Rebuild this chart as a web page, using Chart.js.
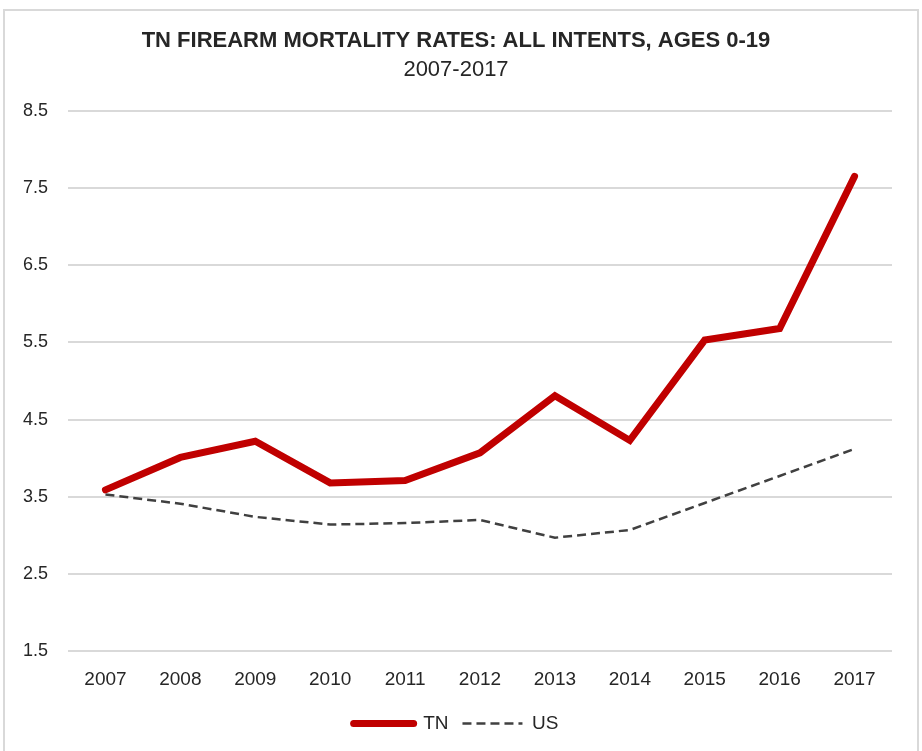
<!DOCTYPE html>
<html>
<head>
<meta charset="utf-8">
<script src="https://cdn.jsdelivr.net/npm/chart.js@4"></script>
<style>
  html, body { margin: 0; padding: 0; background: #fff; }
  body { width: 922px; height: 751px; overflow: hidden; position: relative; }
  #frame {
    position: absolute; left: 3px; top: 9px; width: 912px; height: 760px;
    border: 2px solid #d9d9d9;
  }
  #wrap { position: absolute; left: 0; top: 0; width: 922px; height: 751px; }
</style>
</head>
<body>
<div id="frame"></div>
<div id="wrap"><canvas id="chart"></canvas></div>
<script>
// years on the x axis
const years = ['2007', '2008', '2009', '2010', '2011', '2012', '2013', '2014', '2015', '2016', '2017'];
// rates per 100k
const tnRates = [3.59, 4.01, 4.22, 3.68, 3.71, 4.07, 4.81, 4.23, 5.53, 5.68, 7.65];
const usRates = [3.53, 3.41, 3.24, 3.14, 3.16, 3.20, 2.97, 3.07, 3.42, 3.77, 4.12];
const yTicks = [1.5, 2.5, 3.5, 4.5, 5.5, 6.5, 7.5, 8.5];

const fontFamily = '"Liberation Sans", Arial, sans-serif';
const textColor = '#262626';

const ctx = document.getElementById('chart').getContext('2d');
const myChart = new Chart(ctx, {
    type: 'line',
    data: {
        labels: years,
        datasets: [
            {
                label: 'TN',
                data: tnRates,
                borderColor: '#c00000',
                backgroundColor: '#c00000',
                borderWidth: 7,
                borderCapStyle: 'round',
                pointRadius: 0,
            },
            {
                label: 'US',
                data: usRates,
                borderColor: '#404040',
                backgroundColor: '#404040',
                borderWidth: 2.5,
                borderDash: [9, 5],
                pointRadius: 0,
            },
        ],
    },
    options: {
        responsive: true,
        maintainAspectRatio: false,
        animation: false,
        layout: {
            padding: { left: 20, right: 30, top: 22, bottom: 8 },
        },
        plugins: {
            title: {
                display: true,
                text: 'TN FIREARM MORTALITY RATES: ALL INTENTS, AGES 0-19',
                color: textColor,
                font: { family: fontFamily, size: 22, weight: 'bold' },
                padding: { top: 6, bottom: 0 },
            },
            subtitle: {
                display: true,
                text: '2007-2017',
                color: textColor,
                font: { family: fontFamily, size: 22, weight: 'normal' },
                padding: { top: 2, bottom: 28 },
            },
            legend: {
                position: 'bottom',
                labels: {
                    usePointStyle: true,
                    pointStyleWidth: 60,
                    boxHeight: 6,
                    color: textColor,
                    font: { family: fontFamily, size: 19 },
                    padding: 14,
                    // draw the legend swatch as the line itself, dashes included
                    generateLabels: function (chart) {
                        return chart.data.datasets.map(function (ds, i) {
                            return {
                                text: ds.label,
                                datasetIndex: i,
                                pointStyle: 'line',
                                fillStyle: ds.borderColor,
                                strokeStyle: ds.borderColor,
                                fontColor: textColor,
                                lineWidth: ds.borderWidth,
                                lineDash: ds.borderDash || [],
                                lineCap: ds.borderWidth > 3 ? 'round' : 'butt',
                                hidden: false,
                            };
                        });
                    },
                },
            },
            tooltip: { enabled: false },
        },
        scales: {
            x: {
                offset: true,
                grid: { display: false },
                border: { display: false },
                ticks: {
                    color: textColor,
                    font: { family: fontFamily, size: 19 },
                    padding: 9,
                },
            },
            y: {
                min: 1.5,
                max: 8.5,
                afterBuildTicks: function (axis) {
                    axis.ticks = yTicks.map(function (v) { return { value: v }; });
                },
                afterFit: function (axis) {
                    axis.width = 48;
                },
                grid: { color: '#d9d9d9', lineWidth: 2, drawTicks: false },
                border: { display: false },
                ticks: {
                    color: textColor,
                    font: { family: fontFamily, size: 18 },
                    padding: 20,
                    callback: function (value) { return Number(value).toFixed(1); },
                },
            },
        },
    },
});
</script>
</body>
</html>
